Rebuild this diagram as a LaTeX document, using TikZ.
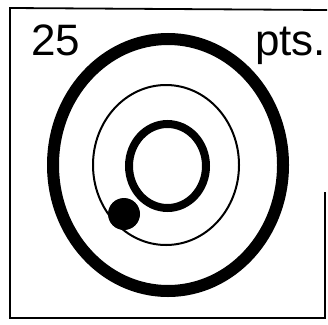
\documentclass[tikz,border=0pt]{standalone}
\usepackage{fontspec}
\setmainfont{Liberation Sans}
\usetikzlibrary{positioning}
\tikzset{line width=1pt,
  frame/.style={draw=black,line width=1.8pt},
  ring/.style={draw=black,line width=12pt},
  thinring/.style={draw=black,line width=2pt},
  innerring/.style={draw=black,line width=8pt},
  marker/.style={fill=black},
  bigtext/.style={font=\fontsize{44}{44}\selectfont,inner sep=0pt}}

\begin{document}
\begin{tikzpicture}[x=1pt,y=-1pt]
\path[use as bounding box] (0,0) rectangle (328,324);
% frame, right side only partly printed
\draw[frame] (325,192)--(325,318)--(10,318)--(10,8)--(327,10);
\node[bigtext,anchor=base west] (score) at (31,55) {25};
\node[bigtext,anchor=base west] (unit) at (255,55) {pts.};
% target rings
\draw[ring] (168,165) ellipse [x radius=115pt,y radius=126pt];
\draw[thinring] (166,165) ellipse [x radius=73pt,y radius=80pt];
\draw[innerring] (167.5,166) ellipse [x radius=38.5pt,y radius=42pt];
\fill[marker] (124,214) circle (16pt);
\end{tikzpicture}
\end{document}
